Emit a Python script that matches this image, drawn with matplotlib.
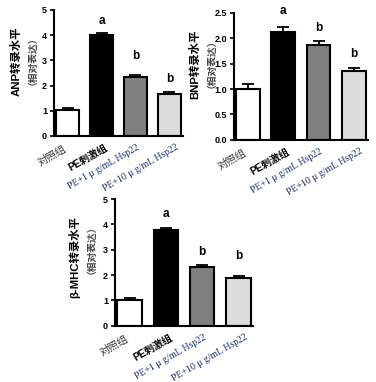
import matplotlib.pyplot as plt
import matplotlib.transforms as mtransforms

plt.rcParams['font.family'] = ['Liberation Sans', 'Noto Sans CJK SC', 'DejaVu Sans']

# data
groups = ['对照组', 'PE刺激组', 'PE+1 μ g/mL Hsp22', 'PE+10 μ g/mL Hsp22']
colors = ['white', 'black', '#7f7f7f', '#dcdcdc']

anp = [1.02, 4.00, 2.33, 1.68]
anp_err = [0.08, 0.08, 0.07, 0.06]
anp_sig = ['', 'a', 'b', 'b']
anp_sig_y = [0, 4.33, 2.94, 2.02]

bnp = [1.00, 2.13, 1.87, 1.35]
bnp_err = [0.10, 0.10, 0.08, 0.07]
bnp_sig = ['', 'a', 'b', 'b']
bnp_sig_y = [0, 2.42, 2.09, 1.57]

mhc = [1.02, 3.78, 2.32, 1.90]
mhc_err = [0.09, 0.08, 0.06, 0.06]
mhc_sig = ['', 'a', 'b', 'b']
mhc_sig_y = [0, 4.17, 2.68, 2.52]

fig = plt.figure(figsize=(3.76, 3.82), dpi=100)

# shift of each x label (pixels), the labels were placed by hand in the original
label_dx = [-5, 3, 1, 6]


def panel(rect, vals, errs, sig, sig_y, name, ymax, step, fmt):
    ax = fig.add_axes(rect)
    x = range(len(vals))
    ax.bar(x, vals, width=0.67, color=colors, edgecolor='black', linewidth=1.5, zorder=2)
    ax.errorbar(x, vals, yerr=[[0] * len(vals), errs], fmt='none', ecolor='black',
                elinewidth=1.3, capsize=4, capthick=1.3, zorder=3)
    for i, s in enumerate(sig):
        if s:
            ax.text(i, sig_y[i], s, ha='center', va='bottom', fontsize=8.5, fontweight='bold')
    ax.set_xlim(-0.4, 3.4)
    ax.set_ylim(0, ymax)
    ticks = [k * step for k in range(int(round(ymax / step)) + 1)]
    ax.set_yticks(ticks)
    ax.set_yticklabels([fmt.format(t) for t in ticks], fontsize=6.5, fontweight='bold')
    ax.spines['top'].set_visible(False)
    ax.spines['right'].set_visible(False)
    ax.spines['left'].set_linewidth(1.5)
    ax.spines['bottom'].set_linewidth(1.5)
    ax.tick_params(axis='y', width=1.2, length=3, pad=2)
    ax.tick_params(axis='x', length=0, pad=5)
    ax.set_xticks(list(x))
    ax.set_xticklabels(groups, rotation=30, ha='right', rotation_mode='anchor')
    labs = ax.get_xticklabels()
    labs[0].set_fontsize(7.5)
    labs[0].set_color('#333333')
    labs[0].set_family(['Noto Sans CJK SC'])
    labs[1].set_fontsize(7.2)
    labs[1].set_fontweight('bold')
    for k in (2, 3):
        labs[k].set_family(['Liberation Serif', 'DejaVu Serif'])
        labs[k].set_fontsize(7)
        labs[k].set_color('#1a2a6c')
    for k, lab in enumerate(labs):
        off = mtransforms.ScaledTranslation(label_dx[k] / 100, 0, fig.dpi_scale_trans)
        lab.set_transform(lab.get_transform() + off)
    # two-line y label, lines aligned at the top
    ax.text(-0.295, 0.87, name + '转录水平', transform=ax.transAxes, rotation=90,
            rotation_mode='anchor', ha='right', va='center', fontsize=8.2, fontweight='bold')
    ax.text(-0.205, 0.87, '（相对表达）', transform=ax.transAxes, rotation=90,
            rotation_mode='anchor', ha='right', va='center', fontsize=7,
            fontweight='bold', color='#444444', family=['Noto Sans CJK SC'])
    return ax


panel([0.1436, 0.644, 0.343, 0.330], anp, anp_err, anp_sig, anp_sig_y, 'ANP', 5, 1, '{:.0f}')
panel([0.622, 0.634, 0.357, 0.332], bnp, bnp_err, bnp_sig, bnp_sig_y, 'BNP', 2.5, 0.5, '{:.1f}')
panel([0.306, 0.147, 0.367, 0.332], mhc, mhc_err, mhc_sig, mhc_sig_y, 'β-MHC', 5, 1, '{:.0f}')

fig.savefig('out.png', dpi=100)
